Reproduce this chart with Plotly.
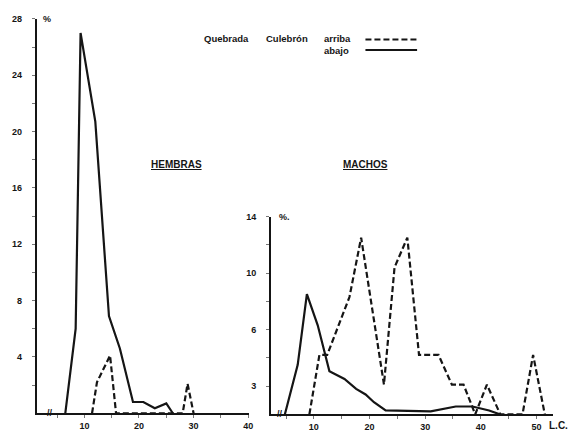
import plotly.graph_objects as go

# ---- data ----
# HEMBRAS (left panel)
hem_abajo_x = [6.5, 8.4, 9.3, 12.0, 14.5, 16.5, 18.9, 20.8, 22.9, 25.0, 26.2]
hem_abajo_y = [0.0, 6.0, 27.0, 20.7, 6.9, 4.6, 0.8, 0.8, 0.35, 0.7, 0.0]
hem_arriba_x = [11.4, 12.3, 14.7, 15.8, 28.0, 28.9, 30.0]
hem_arriba_y = [0.0, 2.2, 4.1, 0.0, 0.0, 2.1, 0.0]

# MACHOS (right panel)
mac_abajo_x = [4.8, 7.1, 8.75, 10.7, 12.8, 15.5, 17.6, 19.3, 20.8, 22.9, 31.0, 35.5, 38.5, 41.5, 43.4]
mac_abajo_y = [0.0, 3.5, 8.5, 6.3, 3.05, 2.5, 1.8, 1.4, 0.85, 0.27, 0.2, 0.55, 0.55, 0.27, 0.0]
mac_arriba_x = [9.2, 11.0, 12.4, 16.4, 18.5, 22.6, 24.5, 26.8, 28.9, 32.4, 34.8, 36.9, 39.0, 41.1, 43.5, 47.5, 49.4, 51.5]
mac_arriba_y = [0.0, 4.2, 4.2, 8.3, 12.5, 2.1, 10.4, 12.5, 4.2, 4.2, 2.1, 2.1, 0.0, 2.1, 0.0, 0.0, 4.2, 0.0]

# tick labels
left_y_vals = [4, 8, 12, 16, 20, 24, 28]
left_y_text = ["4", "8", "12", "16", "20", "24", "28"]
right_y_vals = [2, 6, 10, 14]
right_y_text = ["3", "6", "10", "14"]
left_x_vals = [5, 10, 15, 20, 25, 30, 35, 40]
left_x_text = ["", "10", "", "20", "", "30", "", "40"]
right_x_vals = [5, 10, 15, 20, 25, 30, 35, 40, 45, 50]
right_x_text = ["", "10", "", "20", "", "30", "", "40", "", "50"]

INK = "#151515"
W, H = 576, 436
FONT = "Liberation Sans"

fig = go.Figure()
solid = dict(color=INK, width=2.2)
dashed = dict(color=INK, width=2.2, dash="6px,3px")

fig.add_trace(go.Scatter(x=hem_abajo_x, y=hem_abajo_y, mode="lines", line=solid, xaxis="x", yaxis="y"))
fig.add_trace(go.Scatter(x=hem_arriba_x, y=hem_arriba_y, mode="lines", line=dashed, xaxis="x", yaxis="y"))
fig.add_trace(go.Scatter(x=mac_abajo_x, y=mac_abajo_y, mode="lines", line=solid, xaxis="x2", yaxis="y2"))
fig.add_trace(go.Scatter(x=mac_arriba_x, y=mac_arriba_y, mode="lines", line=dashed, xaxis="x2", yaxis="y2"))

tickfont = dict(family=FONT, size=9, color=INK, weight=700)
axcommon = dict(showgrid=False, zeroline=False, showline=True, linecolor=INK, linewidth=2,
                ticks="outside", ticklen=3, tickwidth=1, tickcolor="#777", tickfont=tickfont)

def px(x):
    return x / W

def py(y):
    return 1 - y / H

def bold_list(lst):
    return ["<b>%s</b>" % s if s else "" for s in lst]

fig.update_layout(
    width=W, height=H, margin=dict(l=0, r=0, t=0, b=0),
    paper_bgcolor="white", plot_bgcolor="white", showlegend=False,
    xaxis=dict(domain=[px(37), px(251)], range=[1.27, 40.2], anchor="y",
               tickvals=left_x_vals, ticktext=bold_list(left_x_text), **axcommon),
    yaxis=dict(domain=[py(413), py(14)], range=[0, 28], anchor="x",
               tickvals=list(range(2, 29, 2)),
               ticktext=bold_list([str(v) if v in left_y_vals else "" for v in range(2, 29, 2)]),
               ticklabelstandoff=8, **axcommon),
    xaxis2=dict(domain=[px(273), px(557)], range=[2.32, 53.0], anchor="y2",
                tickvals=right_x_vals, ticktext=bold_list(right_x_text), **axcommon),
    yaxis2=dict(domain=[py(414), py(214)], range=[0, 14], anchor="x2",
                tickvals=list(range(2, 15, 2)),
                ticktext=bold_list([right_y_text[right_y_vals.index(v)] if v in right_y_vals else "" for v in range(2, 15, 2)]),
                ticklabelstandoff=8, **axcommon),
)

ann = []
def text(x, y, s, size=9, xanchor="left", yanchor="middle"):
    ann.append(dict(x=px(x), y=py(y), xref="paper", yref="paper", text="<b>%s</b>" % s, showarrow=False,
                    xanchor=xanchor, yanchor=yanchor,
                    font=dict(family=FONT, size=size, color=INK)))

text(41, 14, "%", 9)
text(279, 214, "%.", 9)
text(178, 161, "<u>HEMBRAS</u>", 10, xanchor="center")
text(368, 161, "<u>MACHOS</u>", 10, xanchor="center")
text(203, 34, "Quebrada", 9.5)
text(266, 34, "Culebrón", 9.5)
text(324, 34, "arriba", 9.5)
text(324, 46, "abajo", 9.5)
text(574, 425, "L.C.", 10, xanchor="right")
# axis break marks
ann.append(dict(x=3.7, y=0, xref="x", yref="y", text="<b>//</b>", showarrow=False,
                font=dict(family=FONT, size=9, color=INK)))
ann.append(dict(x=3.9, y=0, xref="x2", yref="y2", text="<b>//</b>", showarrow=False,
                font=dict(family=FONT, size=9, color=INK)))
fig.update_layout(annotations=ann)

fig.update_layout(shapes=[
    dict(type="line", xref="paper", yref="paper", x0=px(368), x1=px(420), y0=py(35), y1=py(35),
         line=dict(color=INK, width=2, dash="6px,3px")),
    dict(type="line", xref="paper", yref="paper", x0=px(368), x1=px(420), y0=py(45.5), y1=py(45.5),
         line=dict(color=INK, width=2)),
])

fig.write_html("out.html")
